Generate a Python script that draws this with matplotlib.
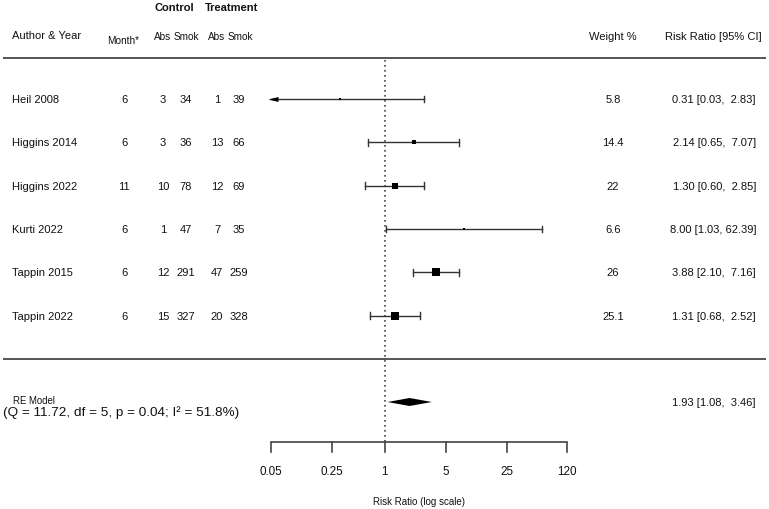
import numpy as np
import matplotlib
matplotlib.use('Agg')
import matplotlib.pyplot as plt
from matplotlib.transforms import ScaledTranslation, blended_transform_factory

plt.rcParams['font.family'] = ['Liberation Sans', 'DejaVu Sans']

# ---------------- data ----------------
studies = ["Heil 2008", "Higgins 2014", "Higgins 2022", "Kurti 2022", "Tappin 2015", "Tappin 2022"]
months = [6, 6, 11, 6, 6, 6]
ctrl_abs = [3, 3, 10, 1, 12, 15]
ctrl_smok = [34, 36, 78, 47, 291, 327]
trt_abs = [1, 13, 12, 7, 47, 20]
trt_smok = [39, 66, 69, 35, 259, 328]
weights = [5.8, 14.4, 22, 6.6, 26, 25.1]
rr = [0.31, 2.14, 1.30, 8.00, 3.88, 1.31]
ci_low = [0.03, 0.65, 0.60, 1.03, 2.10, 0.68]
ci_high = [2.83, 7.07, 2.85, 62.39, 7.16, 2.52]
re_est, re_low, re_high = 1.93, 1.08, 3.46
het_q, het_df, het_p, het_i2 = 11.72, 5, 0.04, 51.8
xticks = [0.05, 0.25, 1, 5, 25, 120]
xtick_labels = ["0.05", "0.25", "1", "5", "25", "120"]

# ---------------- layout ----------------
W, H = 769, 510
PX_PER_LN = 38.03
X_ONE = 384.6
ROW0, ROW_H = 100.0, 43.3


def ry(p):
    return (p - ROW0) / ROW_H


fig = plt.figure(figsize=(W / 100, H / 100), dpi=100)
ax = fig.add_axes([0, 0, 1, 1])
ax.set_xscale('log')
ax.set_xlim(np.exp(-X_ONE / PX_PER_LN), np.exp((W - X_ONE) / PX_PER_LN))
ax.set_ylim(ry(H), ry(0))
ax.axis('off')

tr = blended_transform_factory(fig.transFigure, ax.transData)


def fx(px):
    return px / W


ink = '#111111'
line_col = '#333333'

# headers
ax.text(fx(174), ry(8), "Control", transform=tr, ha='center', va='center', fontsize=8, fontweight='bold', color=ink)
ax.text(fx(232), ry(8), "Treatment", transform=tr, ha='center', va='center', fontsize=8, fontweight='bold', color=ink)
ax.text(fx(12), ry(36), "Author & Year", transform=tr, ha='left', va='center', fontsize=8, color=ink)
ax.text(fx(123), ry(41), "Month*", transform=tr, ha='center', va='center', fontsize=7.2, color=ink)
ax.text(fx(163), ry(37), "Abs", transform=tr, ha='center', va='center', fontsize=7.2, color=ink)
ax.text(fx(186), ry(37), "Smok", transform=tr, ha='center', va='center', fontsize=7.2, color=ink)
ax.text(fx(217), ry(37), "Abs", transform=tr, ha='center', va='center', fontsize=7.2, color=ink)
ax.text(fx(240), ry(37), "Smok", transform=tr, ha='center', va='center', fontsize=7.2, color=ink)
ax.text(fx(613), ry(37), "Weight %", transform=tr, ha='center', va='center', fontsize=8, color=ink)
ax.text(fx(762), ry(37), "Risk Ratio [95% CI]", transform=tr, ha='right', va='center', fontsize=8, color=ink)

# separator lines
ax.plot([fx(3), fx(766)], [ry(58.5)] * 2, transform=tr, color='#555555', lw=1.4, solid_capstyle='butt')
ax.plot([fx(3), fx(766)], [ry(360)] * 2, transform=tr, color='#555555', lw=1.4, solid_capstyle='butt')

# reference line at RR = 1
ax.plot([1, 1], [ry(61), ry(443)], color='#444444', lw=1.2, linestyle=(0, (1, 2.0)))

xmin_axis = xticks[0]
wmax = max(weights)
cap = 3.3 / ROW_H
arrow_off = ScaledTranslation(2.5 / 100, 0, fig.dpi_scale_trans)
arrow_marker = [(-1, 0), (1, 0.5), (1, -0.5), (-1, 0)]

for i, name in enumerate(studies):
    y = i
    ax.text(fx(12), y, name, transform=tr, ha='left', va='center', fontsize=8, color=ink)
    ax.text(fx(124), y, str(months[i]), transform=tr, ha='center', va='center', fontsize=8, color=ink)
    ax.text(fx(163), y, str(ctrl_abs[i]), transform=tr, ha='center', va='center', fontsize=8, color=ink)
    ax.text(fx(186), y, str(ctrl_smok[i]), transform=tr, ha='center', va='center', fontsize=8, color=ink)
    ax.text(fx(217), y, str(trt_abs[i]), transform=tr, ha='center', va='center', fontsize=8, color=ink)
    ax.text(fx(239), y, str(trt_smok[i]), transform=tr, ha='center', va='center', fontsize=8, color=ink)
    ax.text(fx(613), y, f"{weights[i]:g}", transform=tr, ha='center', va='center', fontsize=8, color=ink)
    ax.text(fx(756), y, f"{rr[i]:.2f} [{ci_low[i]:.2f}, {ci_high[i]:>5.2f}]", transform=tr,
            ha='right', va='center', fontsize=8, color=ink)

    lo = max(ci_low[i], xmin_axis)
    ax.plot([lo, ci_high[i]], [y, y], color=line_col, lw=1.0)
    ax.plot([ci_high[i]] * 2, [y - cap, y + cap], color=line_col, lw=1.0)
    if ci_low[i] < xmin_axis:
        ax.plot([xmin_axis], [y], marker=arrow_marker, ms=7.2, color='black', mew=0,
                transform=ax.transData + arrow_off)
    else:
        ax.plot([lo] * 2, [y - cap, y + cap], color=line_col, lw=1.0)
    side_px = 7.3 * (weights[i] / wmax) ** 0.7
    ax.plot([rr[i]], [y], marker='s', ms=side_px * 0.72, color='black', mew=0)

# RE model
y_re = ry(403)
dh = 4 / ROW_H
ax.fill([re_low, re_est, re_high, re_est], [y_re, y_re - dh, y_re, y_re + dh], color='black', lw=0)
ax.text(fx(13), ry(401.5), "RE Model", transform=tr, ha='left', va='center', fontsize=6.9, color=ink)
ax.text(fx(3), ry(412.5),
        f"(Q = {het_q:.2f}, df = {het_df}, p = {het_p:.2f}; I\u00b2 = {het_i2:.1f}%)",
        transform=tr, ha='left', va='center', fontsize=9.7, color=ink)
ax.text(fx(756), y_re, f"{re_est:.2f} [{re_low:.2f}, {re_high:>5.2f}]", transform=tr,
        ha='right', va='center', fontsize=8, color=ink)

# x axis
y_ax = ry(443.3)
tick_len = 9.4 / ROW_H
ax.plot([xticks[0], xticks[-1]], [y_ax, y_ax], color='#444444', lw=1.2, solid_capstyle='butt')
for t, lab in zip(xticks, xtick_labels):
    ax.plot([t, t], [y_ax, y_ax + tick_len], color='#444444', lw=1.2)
    ax.text(t, ry(471.7), lab, ha='center', va='center', fontsize=8.4, color=ink)
xc = np.sqrt(xticks[0] * xticks[-1])
ax.text(xc, ry(501.7), "Risk Ratio (log scale)", ha='center', va='center', fontsize=7, color=ink)

fig.savefig('out.png', dpi=100)
